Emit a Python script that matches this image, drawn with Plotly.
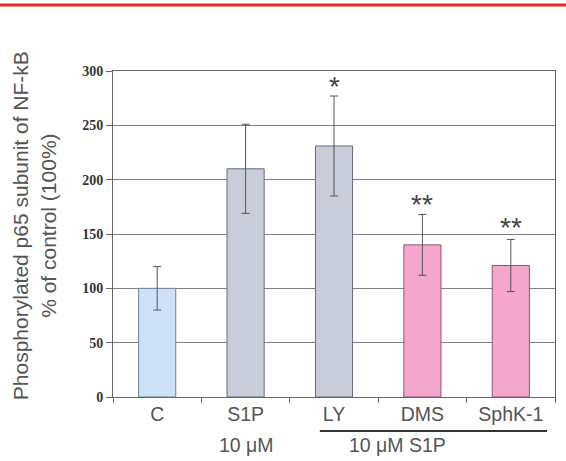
import plotly.graph_objects as go

categories = ["C", "S1P", "LY", "DMS", "SphK-1"]
values = [100, 210, 231, 140, 121]
errors = [20, 41, 46, 28, 24]
bar_colors = ["#cfe1f7", "#c9ccd9", "#c9ccd9", "#f4a6cc", "#f4a6cc"]
edge_colors = ["#6f7f99", "#676a7c", "#676a7c", "#8c5573", "#8c5573"]
star_labels = ["", "", "*", "**", "**"]
star_y = [0, 0, 286, 177, 156]
y_ticks = [0, 50, 100, 150, 200, 250, 300]

fig = go.Figure()
fig.add_trace(go.Bar(
    x=categories, y=values,
    width=0.42,
    marker=dict(color=bar_colors, line=dict(color=edge_colors, width=1)),
    error_y=dict(type="data", array=errors, color="#555555", thickness=1, width=4),
    showlegend=False, hoverinfo="skip",
))

for c, s, yy in zip(categories, star_labels, star_y):
    if s:
        fig.add_annotation(x=c, y=yy, text=s, showarrow=False, xref="x", yref="y",
                           xanchor="center", yanchor="middle",
                           font=dict(family="Arial, Liberation Sans", size=28, color="#444444"))

fig.add_annotation(x=0.301, y=-0.147, xref="paper", yref="paper", text="10 μM", showarrow=False,
                   xanchor="center", yanchor="middle",
                   font=dict(family="Arial, Liberation Sans", size=19.5, color="#555555"))
fig.add_annotation(x=0.643, y=-0.147, xref="paper", yref="paper", text="10 μM S1P", showarrow=False,
                   xanchor="center", yanchor="middle",
                   font=dict(family="Arial, Liberation Sans", size=19.5, color="#555555"))
fig.add_shape(type="line", xref="x", yref="paper", x0=1.84, x1=4.41, y0=-0.104, y1=-0.104,
              line=dict(color="#333333", width=2))

fig.add_annotation(x=-0.178, y=0.525, xref="paper", yref="paper",
                   text="Phosphorylated p65 subunit of NF-kB<br>% of control (100%)",
                   textangle=-90, showarrow=False, xanchor="center", yanchor="middle",
                   font=dict(family="Arial, Liberation Sans", size=21, color="#555555"))

# red rule at top
fig.add_shape(type="line", xref="paper", yref="paper", x0=-0.26, x1=1.03, y0=1.2025, y1=1.2025,
              line=dict(color="#e3262a", width=3))

fig.update_layout(
    width=566, height=461,
    margin=dict(l=113, r=11, t=71, b=64),
    plot_bgcolor="white", paper_bgcolor="white",
)
fig.update_xaxes(
    showline=True, mirror=True, linecolor="#666666", linewidth=1,
    ticks="outside", tickson="boundaries", ticklen=5, tickcolor="#666666",
    tickfont=dict(family="Arial, Liberation Sans", size=19.5, color="#555555"),
    showgrid=False,
)
fig.update_yaxes(
    range=[0, 300], tickvals=y_ticks,
    showline=True, mirror=True, linecolor="#666666", linewidth=1,
    ticks="outside", ticklen=6, tickcolor="#666666",
    tickfont=dict(family="Times New Roman, Liberation Serif", size=14, color="#333333", weight="bold"),
    showgrid=True, gridcolor="#808080", gridwidth=1, zeroline=False,
)
fig.write_html("out.html", config={"displayModeBar": False},
               post_script="document.body.style.margin='0';")
